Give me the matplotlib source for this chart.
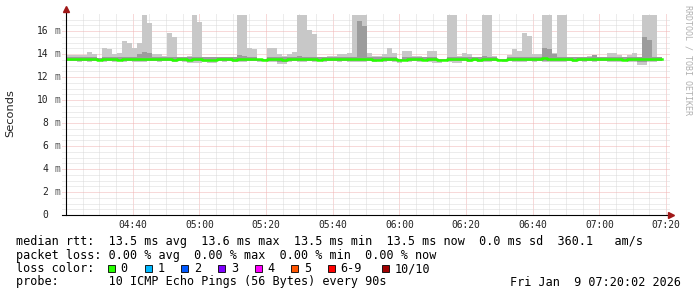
import matplotlib
import numpy as np

matplotlib.use("Agg")
import matplotlib.pyplot as plt
import matplotlib.transforms as mtransforms
from matplotlib.patches import Rectangle

W, H = 697, 297
STEP_MIN = 1.5  # 90 s probe interval, x axis is minutes after 04:20

# top of the light smoke (slowest ping), ms
rtt_max = [
    13.95, 13.95, 13.9, 13.95, 14.2, 14.0, 13.65, 14.5, 14.4, 14.0,
    14.05, 15.1, 15.0, 14.55, 15.0, 18.5, 16.7, 14.0, 14.0, 13.8,
    15.8, 15.45, 13.7, 13.7, 13.8, 18.5, 16.8, 13.7, 13.7, 13.7,
    13.7, 13.7, 13.7, 13.7, 18.5, 18.5, 14.5, 14.45, 13.6, 13.6,
    14.5, 14.5, 14.0, 13.8, 14.0, 14.2, 18.5, 18.5, 16.1, 15.7,
    13.7, 13.7, 13.8, 13.8, 14.0, 14.0, 14.1, 18.5, 18.5, 18.5,
    14.1, 13.8, 13.8, 14.0, 14.5, 14.1, 13.6, 14.3, 14.3, 13.8,
    13.8, 13.7, 14.3, 14.25, 13.6, 13.6, 18.5, 18.5, 13.8, 14.1,
    14.0, 13.7, 13.7, 18.5, 18.5, 13.8, 13.6, 13.6, 13.9, 14.45,
    14.3, 15.8, 15.6, 14.0, 14.0, 18.5, 18.5, 14.1, 18.5, 18.5,
    13.7, 13.7, 13.7, 13.7, 13.8, 13.9, 13.7, 13.7, 14.1, 14.1,
    13.9, 13.7, 13.9, 14.1, 13.7, 18.5, 18.5, 18.5, 13.7,
]

# bottom of the light smoke (fastest ping), ms
rtt_min = [
    13.35, 13.35, 13.3, 13.35, 13.3, 13.35, 13.35, 13.3, 13.35, 13.3,
    13.35, 13.3, 13.35, 13.3, 13.3, 13.3, 13.35, 13.35, 13.3, 13.35,
    13.35, 13.3, 13.35, 13.3, 13.2, 13.2, 13.2, 13.3, 13.25, 13.25,
    13.35, 13.3, 13.35, 13.3, 13.3, 13.3, 13.35, 13.35, 13.3, 13.35,
    13.3, 13.3, 13.12, 13.12, 13.3, 13.35, 13.28, 13.28, 13.35, 13.3,
    13.35, 13.3, 13.35, 13.35, 13.3, 13.35, 13.3, 13.3, 13.3, 13.3,
    13.35, 13.3, 13.35, 13.3, 13.35, 13.3, 13.25, 13.35, 13.3, 13.35,
    13.3, 13.35, 13.3, 13.25, 13.25, 13.35, 13.3, 13.2, 13.2, 13.35,
    13.3, 13.35, 13.3, 13.3, 13.3, 13.35, 13.35, 13.3, 13.35, 13.3,
    13.28, 13.28, 13.35, 13.3, 13.35, 13.28, 13.28, 13.28, 13.3, 13.3,
    13.35, 13.3, 13.35, 13.3, 13.35, 13.3, 13.35, 13.35, 13.3, 13.3,
    13.28, 13.35, 13.3, 13.3, 13.08, 13.08, 13.3, 13.3, 13.35,
]

# inner (darker) smoke band, ms
smoke_hi = [
    13.72, 13.72, 13.72, 13.72, 13.75, 13.72, 13.65, 13.75, 13.72, 13.72,
    13.72, 13.75, 13.72, 13.75, 14.0, 14.2, 14.05, 13.72, 13.72, 13.72,
    13.72, 13.72, 13.7, 13.7, 13.72, 13.75, 13.72, 13.7, 13.7, 13.7,
    13.7, 13.7, 13.7, 13.7, 13.95, 13.8, 13.75, 13.72, 13.6, 13.6,
    13.72, 13.72, 13.72, 13.72, 13.72, 13.75, 13.8, 13.75, 13.72, 13.72,
    13.7, 13.7, 13.72, 13.72, 13.72, 13.72, 13.72, 13.75, 16.9, 16.4,
    13.75, 13.72, 13.72, 13.72, 13.75, 13.72, 13.6, 13.72, 13.72, 13.72,
    13.72, 13.7, 13.72, 13.72, 13.6, 13.6, 13.75, 13.72, 13.72, 13.72,
    13.72, 13.7, 13.7, 13.8, 13.75, 13.72, 13.6, 13.6, 13.72, 13.72,
    13.72, 13.75, 13.72, 13.72, 13.72, 14.5, 14.4, 14.0, 13.75, 13.72,
    13.7, 13.7, 13.7, 13.7, 13.72, 13.9, 13.7, 13.7, 13.72, 13.72,
    13.72, 13.7, 13.72, 13.72, 13.7, 15.5, 15.25, 13.75, 13.7,
]

smoke_lo = [
    13.42, 13.42, 13.4, 13.42, 13.4, 13.42, 13.42, 13.38, 13.42, 13.4,
    13.42, 13.4, 13.42, 13.4, 13.4, 13.4, 13.42, 13.42, 13.4, 13.42,
    13.42, 13.4, 13.42, 13.4, 13.35, 13.35, 13.35, 13.4, 13.38, 13.38,
    13.42, 13.4, 13.42, 13.4, 13.4, 13.4, 13.42, 13.42, 13.4, 13.42,
    13.4, 13.4, 13.3, 13.3, 13.4, 13.42, 13.38, 13.38, 13.42, 13.4,
    13.42, 13.4, 13.42, 13.42, 13.4, 13.42, 13.4, 13.4, 13.4, 13.4,
    13.42, 13.4, 13.42, 13.4, 13.42, 13.4, 13.38, 13.42, 13.4, 13.42,
    13.4, 13.42, 13.4, 13.38, 13.38, 13.42, 13.4, 13.35, 13.35, 13.42,
    13.4, 13.42, 13.4, 13.4, 13.4, 13.42, 13.42, 13.4, 13.42, 13.4,
    13.38, 13.38, 13.42, 13.4, 13.42, 13.38, 13.38, 13.38, 13.4, 13.4,
    13.42, 13.4, 13.42, 13.4, 13.42, 13.4, 13.42, 13.42, 13.4, 13.4,
    13.38, 13.42, 13.4, 13.4, 13.3, 13.3, 13.4, 13.4, 13.42,
]

# median rtt, ms
rtt_median = [
    13.6, 13.6, 13.58, 13.55, 13.58, 13.6, 13.52, 13.55, 13.6, 13.58,
    13.5, 13.55, 13.58, 13.6, 13.58, 13.55, 13.6, 13.58, 13.55, 13.55,
    13.55, 13.52, 13.55, 13.55, 13.5, 13.55, 13.55, 13.52, 13.5, 13.5,
    13.55, 13.55, 13.55, 13.52, 13.55, 13.6, 13.58, 13.55, 13.55, 13.52,
    13.58, 13.55, 13.55, 13.5, 13.55, 13.58, 13.6, 13.58, 13.55, 13.55,
    13.52, 13.55, 13.55, 13.55, 13.58, 13.55, 13.55, 13.6, 13.58, 13.55,
    13.55, 13.52, 13.5, 13.55, 13.58, 13.55, 13.5, 13.52, 13.55, 13.55,
    13.55, 13.52, 13.55, 13.55, 13.5, 13.5, 13.55, 13.58, 13.6, 13.55,
    13.52, 13.55, 13.5, 13.55, 13.58, 13.55, 13.5, 13.52, 13.55, 13.55,
    13.55, 13.58, 13.55, 13.55, 13.6, 13.62, 13.58, 13.6, 13.55, 13.55,
    13.55, 13.52, 13.55, 13.55, 13.58, 13.55, 13.55, 13.58, 13.6, 13.58,
    13.55, 13.52, 13.55, 13.55, 13.55, 13.6, 13.58, 13.55, 13.55,
]

time_ticks = [20, 40, 60, 80, 100, 120, 140, 160, 180]
time_labels = ["04:40", "05:00", "05:20", "05:40", "06:00", "06:20", "06:40", "07:00", "07:20"]
rtt_ticks = [0, 2, 4, 6, 8, 10, 12, 14, 16]
rtt_tick_labels = ["0", "2", "4", "6", "8", "10", "12", "14", "16"]

legend_rtt = "median rtt:  13.5 ms avg  13.6 ms max  13.5 ms min  13.5 ms now  0.0 ms sd  360.1   am/s"
legend_loss = "packet loss: 0.00 % avg  0.00 % max  0.00 % min  0.00 % now"
legend_probe = "probe:       10 ICMP Echo Pings (56 Bytes) every 90s"
stamp = "Fri Jan  9 07:20:02 2026"
loss_labels = ["0", "1", "2", "3", "4", "5", "6-9", "10/10"]
loss_colors = ["#26ff00", "#00b8ff", "#0059ff", "#7e00ff", "#ff00ff", "#ff5500", "#ff0000", "#a00000"]

MONO = "DejaVu Sans Mono"


def fx(x):
    return x / W


def fy(y):
    return 1 - y / H


def main() -> None:
    fig = plt.figure(figsize=(W / 100, H / 100), dpi=100)
    fig.patch.set_facecolor("white")
    ax = fig.add_axes([fx(66), fy(215), 600 / W, 200 / H])
    ax.set_xlim(0, 180)
    ax.set_ylim(0, 200 / 11.5)
    for s in ax.spines.values():
        s.set_visible(False)
    ax.set_xticks([])
    ax.set_yticks([])

    # grid, drawn under the smoke
    dot = (0, (1, 1))
    for m in np.arange(5, 181, 5):
        major = m % 20 == 0
        ax.axvline(m, ymin=0, ymax=1 + 2 / 200, color="#f0b4b4" if major else "#dadada",
                   lw=0.72, ls=dot, zorder=1, clip_on=False)
    for v in np.arange(0.5, 17.4, 0.5):
        major = abs(v % 2) < 1e-9
        ax.axhline(v, xmin=-4 / 600, xmax=1 + 4 / 600, color="#f0b4b4" if major else "#dadada",
                   lw=0.72, ls=dot, zorder=1, clip_on=False)

    n = len(rtt_median)
    edges = 0.3 + np.arange(n + 1) * STEP_MIN

    def ext(vals):
        return np.append(vals, vals[-1])

    ax.fill_between(edges, ext(rtt_min), ext(rtt_max), step="post", color="#c8c8c8", lw=0, zorder=2)
    ax.fill_between(edges, ext(smoke_lo), ext(smoke_hi), step="post", color="#9c9c9c", lw=0, zorder=3)
    ax.plot(edges, ext(rtt_median), drawstyle="steps-post", color="#26ff00", lw=1.8, zorder=4)

    # axes with rrdtool style arrows
    ax.plot([0, 0], [0, 1 + 4 / 200], transform=ax.transAxes, color="black", lw=0.8, clip_on=False, zorder=5)
    ax.plot([-4 / 600, 1 + 3 / 600], [0, 0], transform=ax.transAxes, color="black", lw=0.8, clip_on=False, zorder=5)
    ax.plot([0], [1 + 6 / 200], transform=ax.transAxes, marker="^", ms=4, color="#a01818", clip_on=False, zorder=6)
    ax.plot([1 + 5 / 600], [0], transform=ax.transAxes, marker=">", ms=4, color="#a01818", clip_on=False, zorder=6)

    # tick labels
    ytrans = mtransforms.blended_transform_factory(fig.transFigure, ax.transData)
    for v, lab in zip(rtt_ticks, rtt_tick_labels):
        ax.text(fx(48), v, lab, transform=ytrans, ha="right", va="center", family=MONO, fontsize=6.9, color="#222222")
        if v:
            ax.text(fx(54.5), v, "m", transform=ytrans, ha="left", va="center", family=MONO, fontsize=6.9, color="#555555")
    xtrans = mtransforms.blended_transform_factory(ax.transData, fig.transFigure)
    for t, lab in zip(time_ticks, time_labels):
        ax.text(t, fy(224.5), lab, transform=xtrans, ha="center", va="center", family=MONO, fontsize=6.9, color="#222222")

    fig.text(fx(10), fy(113), "Seconds", rotation=90, ha="center", va="center", fontsize=8.2, color="#222222")
    fig.text(fx(688), fy(5), "RRDTOOL / TOBI OETIKER", rotation=270, ha="center", va="top",
             family=MONO, fontsize=6, color="#b0b0b0")

    # legend block
    fs = 8.43
    fig.text(fx(16), fy(241), legend_rtt, ha="left", va="center", family=MONO, fontsize=fs, color="black")
    fig.text(fx(16), fy(255), legend_loss, ha="left", va="center", family=MONO, fontsize=fs, color="black")
    fig.text(fx(16), fy(268.5), "loss color:", ha="left", va="center", family=MONO, fontsize=fs, color="black")
    for k, (lab, col) in enumerate(zip(loss_labels, loss_colors)):
        x0 = 108 + 36.67 * k if k < 7 else 381.7
        fig.add_artist(Rectangle((fx(x0), fy(272)), 7 / W, 7.4 / H, transform=fig.transFigure,
                                 facecolor=col, edgecolor="black", lw=0.6))
        fig.text(fx(x0 + 12.7), fy(268.5), lab, ha="left", va="center", family=MONO, fontsize=fs, color="black")
    fig.text(fx(16), fy(282), legend_probe, ha="left", va="center", family=MONO, fontsize=fs, color="black")
    fig.text(fx(681), fy(282), stamp, ha="right", va="center", family=MONO, fontsize=fs, color="black")

    fig.savefig("out.png", dpi=100, facecolor="white")
    plt.close(fig)


if __name__ == "__main__":
    main()
